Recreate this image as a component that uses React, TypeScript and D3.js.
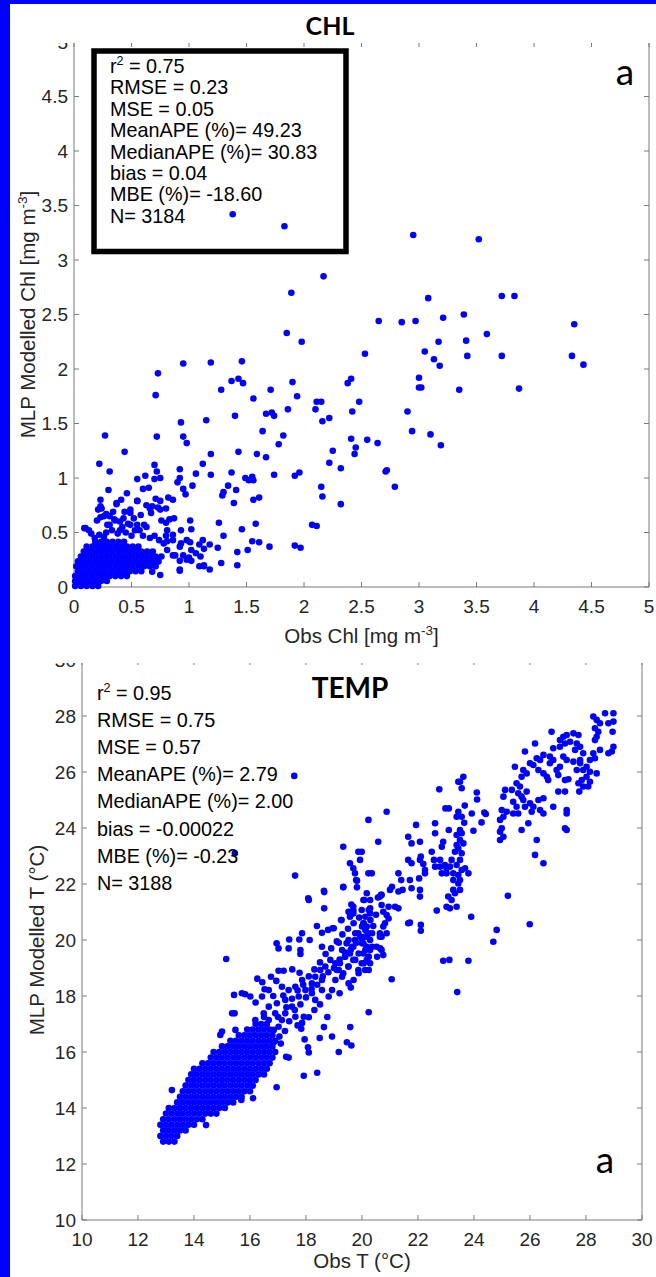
import React from "react";
import * as d3 from "d3";

const W = 656;
const H = 1277;
const BLUE = "#0000ff";
const FONT = "'Liberation Sans', Arial, Helvetica, sans-serif";
const TITLE_FONT = "Lato, 'Open Sans', sans-serif";
const AXIS = "#7a7a7a";
const TXT = "#262626";

// ---------- CHL panel data ----------
const chlTicks = [0, 0.5, 1, 1.5, 2, 2.5, 3, 3.5, 4, 4.5, 5];
const chlR2 = "0.75";
const chlStats = ["RMSE = 0.23", "MSE = 0.05", "MeanAPE (%)= 49.23", "MedianAPE (%)= 30.83", "bias = 0.04", "MBE (%)= -18.60", "N= 3184"];

// dense core of CHL cloud: [y, xs]
const chlCoreRows: [number, number[]][] = [
  [0.01, [0.01, 0.06, 0.11, 0.16, 0.21]],
  [0.055, [0.01, 0.035, 0.085, 0.135, 0.185, 0.235, 0.285]],
  [0.1, [0.01, 0.06, 0.11, 0.16, 0.21, 0.26, 0.31, 0.36, 0.41, 0.46]],
  [0.145, [0.035, 0.085, 0.135, 0.185, 0.235, 0.285, 0.335, 0.385, 0.435, 0.485, 0.535, 0.585]],
  [0.19, [0.02, 0.06, 0.11, 0.16, 0.21, 0.26, 0.31, 0.36, 0.41, 0.46, 0.51, 0.56, 0.61, 0.66, 0.71]],
  [0.235, [0.035, 0.085, 0.135, 0.185, 0.235, 0.285, 0.335, 0.385, 0.435, 0.485, 0.535, 0.585, 0.635, 0.685, 0.735]],
  [0.28, [0.06, 0.11, 0.16, 0.21, 0.26, 0.31, 0.36, 0.41, 0.46, 0.51, 0.56, 0.61, 0.66, 0.71, 0.76]],
  [0.325, [0.085, 0.135, 0.185, 0.235, 0.285, 0.335, 0.385, 0.435, 0.485, 0.535, 0.585, 0.635, 0.685]],
  [0.37, [0.11, 0.16, 0.21, 0.26, 0.31, 0.36, 0.41, 0.46, 0.51, 0.56]],
  [0.415, [0.185, 0.235, 0.285, 0.335, 0.385, 0.435]],
];

const chlScatter: [number, number][] = [
  [2.17, 2.85], [1.89, 2.7], [1.85, 2.33], [1.98, 2.25], [2.53, 2.14], [0.95, 2.05], [1.19, 2.06], [1.46, 2.07], [0.73, 1.96], [0.71, 1.76],
  [1.28, 1.81], [1.37, 1.89], [1.43, 1.91], [1.47, 1.87], [1.9, 1.88], [1.94, 1.75], [1.71, 1.81], [1.56, 1.73], [2.41, 1.91], [2.38, 1.87],
  [2.48, 1.7], [2.42, 1.61], [2.11, 1.7], [2.15, 1.7], [2.1, 1.63], [2.16, 1.52], [2.22, 1.55], [1.86, 1.63], [1.67, 1.59], [1.72, 1.6],
  [1.74, 1.57], [1.4, 1.57], [1.15, 1.53], [0.93, 1.51], [0.27, 1.39], [0.72, 1.38], [0.95, 1.38], [0.98, 1.32], [1.64, 1.43], [1.82, 1.39],
  [1.78, 1.31], [2.41, 1.36], [2.55, 1.35], [2.45, 1.28], [2.44, 1.22], [2.25, 1.25], [2.22, 1.14], [2.32, 1.09], [0.44, 1.24], [0.22, 1.13],
  [0.31, 1.06], [0.7, 1.12], [0.72, 1.06], [0.7, 0.99], [0.75, 1.0], [0.92, 1.08], [0.92, 1.0], [0.9, 0.96], [1.06, 1.04], [1.12, 1.13],
  [1.19, 1.22], [1.19, 1.03], [1.43, 1.24], [1.59, 1.22], [1.67, 1.19], [1.37, 1.05], [1.49, 1.0], [1.52, 0.98], [1.55, 1.01], [1.56, 0.98],
  [1.74, 1.03], [1.92, 1.02], [1.96, 1.05], [1.34, 0.93], [1.41, 0.89], [1.3, 0.87], [1.29, 0.84], [1.39, 0.77], [1.56, 0.8], [1.61, 0.82],
  [1.03, 0.93], [0.95, 0.9], [0.97, 0.85], [2.15, 0.92], [2.16, 0.83], [2.32, 0.76], [0.55, 0.99], [0.62, 1.02], [0.46, 0.86], [0.3, 0.89],
  [0.23, 0.8], [0.24, 0.72], [0.37, 0.76], [0.41, 0.8], [0.55, 0.79], [0.6, 0.9], [0.65, 0.91], [0.63, 0.75], [0.66, 0.72], [0.67, 0.68],
  [0.73, 0.73], [0.75, 0.79], [0.8, 0.72], [0.82, 0.82], [0.86, 0.8], [0.49, 0.71], [0.43, 0.63], [0.31, 0.65], [0.23, 0.64], [0.29, 0.57],
  [0.35, 0.62], [0.49, 0.57], [0.55, 0.57], [0.61, 0.57], [0.76, 0.61], [0.83, 0.62], [0.87, 0.63], [0.8, 0.59], [1.01, 0.61], [1.26, 0.59],
  [1.58, 0.58], [2.07, 0.57], [2.11, 0.56], [1.46, 0.53], [1.3, 0.47], [1.55, 0.42], [1.61, 0.41], [1.7, 0.37], [1.92, 0.38], [1.97, 0.36],
  [0.09, 0.54], [0.15, 0.49], [0.93, 0.52], [1.02, 0.53], [1.12, 0.43], [1.18, 0.39], [1.09, 0.39], [1.25, 0.36], [1.42, 0.32], [1.51, 0.34],
  [1.01, 0.41], [0.93, 0.4], [1.06, 0.31], [1.13, 0.35], [1.28, 0.22], [1.42, 0.2], [1.09, 0.19], [1.13, 0.2], [1.18, 0.16], [0.92, 0.15],
  [0.75, 0.11], [0.68, 0.14], [0.88, 0.29], [0.95, 0.29], [0.92, 0.24], [1.0, 0.27], [1.02, 0.24], [0.86, 0.48], [0.8, 0.47], [0.81, 0.42],
  [2.95, 3.23], [3.52, 3.19], [3.08, 2.65], [3.72, 2.67], [3.83, 2.67], [2.65, 2.44], [2.85, 2.43], [2.97, 2.44], [3.21, 2.47], [3.39, 2.5],
  [4.35, 2.41], [3.59, 2.32], [3.17, 2.25], [3.41, 2.26], [3.05, 2.16], [3.13, 2.09], [3.18, 2.03], [3.42, 2.12], [3.72, 2.12], [4.33, 2.12],
  [4.43, 2.04], [3.0, 1.92], [3.0, 1.83], [3.02, 1.83], [3.35, 1.81], [3.87, 1.82], [2.9, 1.61], [2.94, 1.43], [3.1, 1.4], [3.19, 1.3],
  [2.64, 1.32], [2.71, 1.06], [2.72, 1.07], [2.79, 0.92], [1.38, 3.42], [1.83, 3.31],
  [0.1, 0.54], [0.13, 0.52], [0.21, 0.71], [0.23, 0.74], [0.26, 0.65], [0.2, 0.61], [0.31, 0.57], [0.36, 0.61], [0.37, 0.77], [0.4, 0.52],
  [0.49, 0.68], [0.55, 0.79], [0.57, 0.52], [0.63, 0.55], [0.68, 0.74], [0.71, 0.81], [0.75, 0.71], [0.81, 0.52], [0.86, 0.43], [0.92, 0.37],
  [0.98, 0.43], [1.02, 0.34], [1.1, 0.28], [1.13, 0.19], [0.92, 0.16], [0.98, 0.25], [0.86, 0.29], [0.81, 0.34], [0.65, 0.22],
  [0.28, 0.5], [0.33, 0.52], [0.38, 0.49], [0.42, 0.55], [0.45, 0.5], [0.5, 0.47], [0.53, 0.52], [0.47, 0.58], [0.26, 0.46], [0.22, 0.48],
  [0.18, 0.45], [0.6, 0.47], [0.66, 0.45], [0.7, 0.47], [0.74, 0.43], [0.78, 0.4], [0.4, 0.6], [0.52, 0.63], [0.58, 0.66], [0.44, 0.69],
  [0.34, 0.69], [0.28, 0.67],
];

// ---------- TEMP panel data ----------
const tempTicks = [10, 12, 14, 16, 18, 20, 22, 24, 26, 28, 30];
const tempR2 = "0.95";
const tempStats = ["RMSE = 0.75", "MSE = 0.57", "MeanAPE (%)= 2.79", "MedianAPE (%)= 2.00", "bias = -0.00022", "MBE (%)= -0.23", "N= 3188"];

const tempCoreRows: [number, number[]][] = [
  [12.8, [12.9, 13.1, 13.3]],
  [13.0, [12.8, 13.0, 13.2, 13.4]],
  [13.2, [12.9, 13.1, 13.3, 13.5, 13.7]],
  [13.4, [12.8, 13.0, 13.2, 13.4, 13.6, 13.8, 14.0]],
  [13.6, [12.9, 13.1, 13.3, 13.5, 13.7, 13.9, 14.1, 14.3]],
  [13.8, [13.0, 13.2, 13.4, 13.6, 13.8, 14.0, 14.2, 14.4, 14.6, 14.8]],
  [14.0, [13.1, 13.3, 13.5, 13.7, 13.9, 14.1, 14.3, 14.5, 14.7, 14.9, 15.1]],
  [14.2, [13.4, 13.6, 13.8, 14.0, 14.2, 14.4, 14.6, 14.8, 15.0, 15.2, 15.4]],
  [14.4, [13.5, 13.7, 13.9, 14.1, 14.3, 14.5, 14.7, 14.9, 15.1, 15.3, 15.5, 15.7]],
  [14.6, [13.6, 13.8, 14.0, 14.2, 14.4, 14.6, 14.8, 15.0, 15.2, 15.4, 15.6, 15.8, 16.0]],
  [14.8, [13.7, 13.9, 14.1, 14.3, 14.5, 14.7, 14.9, 15.1, 15.3, 15.5, 15.7, 15.9, 16.1]],
  [15.0, [13.8, 14.0, 14.2, 14.4, 14.6, 14.8, 15.0, 15.2, 15.4, 15.6, 15.8, 16.0, 16.2]],
  [15.2, [13.9, 14.1, 14.3, 14.5, 14.7, 14.9, 15.1, 15.3, 15.5, 15.7, 15.9, 16.1, 16.3, 16.5]],
  [15.4, [14.0, 14.2, 14.4, 14.6, 14.8, 15.0, 15.2, 15.4, 15.6, 15.8, 16.0, 16.2, 16.4, 16.6]],
  [15.6, [14.3, 14.5, 14.7, 14.9, 15.1, 15.3, 15.5, 15.7, 15.9, 16.1, 16.3, 16.5, 16.7]],
  [15.8, [14.6, 14.8, 15.0, 15.2, 15.4, 15.6, 15.8, 16.0, 16.2, 16.4, 16.6, 16.8]],
  [16.0, [14.7, 14.9, 15.1, 15.3, 15.5, 15.7, 15.9, 16.1, 16.3, 16.5, 16.7, 16.9]],
  [16.2, [15.0, 15.2, 15.4, 15.6, 15.8, 16.0, 16.2, 16.4, 16.6, 16.8]],
  [16.4, [15.3, 15.5, 15.7, 15.9, 16.1, 16.3, 16.5, 16.7, 16.9]],
  [16.6, [15.6, 15.8, 16.0, 16.2, 16.4, 16.6, 16.8]],
  [16.8, [15.9, 16.1, 16.3, 16.5, 16.7]],
  [17.0, [16.2, 16.4, 16.6]],
];

const tempScatter: [number, number][] = [
  [15.15, 19.32], [13.21, 14.64], [14.43, 13.39], [16.95, 14.74], [16.11, 14.35], [15.69, 14.29], [17.92, 15.15], [18.4, 15.26], [17.29, 15.83], [17.38, 15.8],
  [18.1, 15.98], [18.07, 16.17], [19.17, 16.0], [19.62, 16.23], [19.46, 16.35], [18.93, 16.55], [18.49, 16.5], [17.95, 16.45], [18.64, 16.89], [19.58, 16.89],
  [18.76, 17.25], [20.24, 17.42], [17.83, 16.83], [17.86, 17.04], [17.92, 17.26], [18.1, 17.24], [15.43, 18.04], [15.45, 17.38], [15.71, 18.1], [15.83, 18.06],
  [16.01, 17.98], [16.2, 17.77], [16.26, 18.62], [16.44, 18.49], [16.52, 18.24], [16.75, 18.69], [16.94, 18.54], [17.02, 18.9], [17.2, 18.9], [16.83, 18.0],
  [17.19, 18.02], [17.51, 18.95], [17.77, 18.83], [17.86, 18.57], [16.95, 19.88], [17.02, 19.7], [17.38, 19.7], [17.4, 20.02], [17.76, 20.02], [17.8, 19.64],
  [17.8, 19.5], [17.86, 20.24], [18.13, 20.0], [18.1, 21.43], [18.65, 21.71], [18.65, 21.13], [18.39, 20.5], [18.57, 20.26], [18.79, 20.36], [18.99, 20.42],
  [18.57, 19.76], [19.17, 19.9], [19.25, 20.71], [19.33, 21.88], [19.62, 21.27], [19.69, 21.05], [19.52, 21.01], [19.82, 22.12], [19.82, 21.88], [20.08, 21.43],
  [20.24, 21.07], [20.29, 20.95], [20.57, 21.52], [20.68, 21.61], [20.65, 19.7], [20.54, 19.4],
  [20.06, 20.6], [20.12, 20.36], [20.18, 20.12], [20.0, 19.88], [20.12, 19.64], [20.24, 19.4], [20.06, 19.17], [20.24, 18.93], [19.88, 18.81], [19.7, 18.57],
  [19.52, 18.45], [19.29, 18.69], [19.17, 18.93], [19.05, 19.17], [18.87, 19.29], [18.69, 19.05], [18.51, 18.93], [18.33, 18.69], [18.21, 18.45], [18.93, 18.21],
  [18.81, 17.98], [18.57, 18.21], [18.21, 18.1], [17.98, 18.21], [17.74, 17.98], [17.5, 17.62], [17.26, 17.38], [17.14, 17.14], [17.62, 17.26], [18.33, 17.86],
  [18.57, 18.57], [19.05, 18.57], [19.52, 19.05], [19.76, 19.29], [19.88, 19.52], [20.36, 19.76], [20.36, 20.24], [20.3, 20.71], [20.12, 20.83], [19.94, 20.12],
  [19.64, 19.76], [19.4, 19.4], [19.29, 19.64], [19.52, 20.0], [19.76, 20.24], [20.0, 20.48],
  [16.67, 17.14], [16.9, 17.38], [16.67, 17.62], [16.49, 17.38], [16.19, 17.14], [16.85, 16.79], [17.02, 16.9], [17.26, 17.86], [17.38, 18.21], [17.62, 18.33],
  [17.14, 18.33], [16.67, 18.21], [16.43, 17.98], [16.96, 17.74], [14.94, 16.61], [15.0, 16.73], [15.48, 16.79], [15.36, 17.38],
  [17.1, 16.3], [17.25, 16.75], [17.0, 17.25], [16.5, 17.25], [17.05, 16.55], [16.85, 16.35],
  [17.3, 17.6], [17.5, 17.9], [17.7, 18.2], [17.9, 18.4], [18.1, 18.7], [18.3, 18.95], [18.5, 19.2], [18.7, 19.5], [18.9, 19.7], [19.1, 19.95],
  [19.3, 20.2], [19.5, 20.4], [19.7, 20.6], [19.9, 20.8], [17.6, 17.5], [17.8, 17.7], [18.0, 17.95], [18.2, 18.25], [18.4, 18.4], [18.6, 18.7],
  [18.8, 18.85], [19.0, 19.0], [19.2, 19.3], [19.4, 19.55], [19.6, 19.65], [19.8, 19.9], [20.0, 20.05], [17.4, 17.1], [17.7, 16.95], [18.3, 17.5],
  [18.5, 17.7], [19.2, 18.1], [19.6, 18.3], [20.4, 20.5], [20.5, 20.9],
  [28.68, 28.1], [28.98, 28.1], [28.26, 27.98], [28.38, 27.86], [28.5, 27.74], [28.98, 27.8], [28.8, 27.74], [28.32, 27.56], [28.44, 27.44], [28.38, 27.26],
  [28.32, 27.14], [28.92, 26.73], [28.8, 26.67], [28.98, 26.9], [28.5, 26.79], [28.26, 26.67], [28.14, 26.43], [28.32, 26.49], [27.9, 26.67], [27.79, 26.9],
  [27.61, 26.79], [27.67, 27.02], [27.73, 27.32], [27.55, 27.38], [27.31, 27.32], [27.19, 27.26], [27.07, 27.14], [27.25, 27.02], [27.43, 27.08], [27.07, 26.9],
  [27.19, 26.55], [26.77, 27.44], [26.83, 26.85], [26.71, 26.55], [26.71, 26.31], [27.31, 26.43], [27.55, 26.37], [27.79, 26.31], [28.02, 26.19], [27.9, 26.07],
  [28.14, 26.01], [28.38, 25.95], [28.02, 25.83], [27.85, 25.71], [27.67, 26.07], [27.79, 26.43], [27.07, 26.19], [27.37, 25.74], [26.6, 25.83], [26.65, 25.71],
  [26.95, 26.07], [26.48, 25.95], [26.83, 26.43], [26.36, 26.43], [26.12, 26.25], [26.24, 26.49], [26.0, 26.31], [25.82, 26.73], [26.18, 27.02], [26.48, 26.61],
  [26.3, 26.07], [25.46, 26.19], [25.76, 26.07], [25.7, 25.83], [25.88, 25.95], [25.52, 25.6], [25.64, 25.48], [25.58, 25.24], [25.7, 25.12], [25.76, 25.0],
  [25.88, 25.3], [25.35, 25.36], [25.11, 25.36], [25.05, 25.12], [25.4, 24.94], [25.52, 24.76], [25.82, 24.76], [26.0, 24.88], [26.12, 24.76], [26.3, 25.0],
  [26.48, 25.06], [26.06, 24.58], [26.36, 24.64], [26.48, 24.52], [26.83, 24.76], [27.01, 25.3], [27.25, 25.3], [27.31, 24.64], [27.31, 24.52], [27.25, 23.99],
  [27.31, 23.93], [27.73, 25.6], [27.9, 25.48], [28.14, 25.65], [27.76, 25.3], [28.08, 25.48], [27.01, 25.89], [27.25, 25.71], [25.94, 24.17], [25.7, 23.93],
  [26.24, 23.57], [26.18, 23.04], [26.48, 22.74], [25.4, 24.52], [25.58, 24.52], [25.05, 24.4], [24.99, 24.64], [25.17, 24.58], [24.93, 24.29], [24.99, 23.99],
  [24.93, 23.87], [24.93, 23.57], [25.05, 23.69], [28.95, 27.44],
  [23.62, 25.83], [23.44, 25.65], [23.56, 25.42], [23.5, 25.65], [22.76, 25.38], [24.1, 25.27], [24.11, 25.02], [22.98, 24.7], [23.1, 24.7], [23.67, 24.8],
  [23.44, 24.58], [23.38, 24.4], [23.56, 24.4], [23.92, 24.52], [24.37, 24.55], [24.42, 24.5], [24.27, 24.2], [23.65, 24.19], [23.98, 23.9], [23.1, 23.93],
  [23.5, 23.93], [23.56, 23.81], [23.38, 23.75], [23.5, 23.57], [23.38, 23.39], [23.62, 23.45], [23.44, 23.27], [23.32, 23.15], [23.56, 23.1], [23.5, 22.86],
  [23.2, 22.86], [23.38, 22.68], [23.14, 22.62], [23.02, 22.56], [22.96, 22.68], [22.79, 22.62], [22.85, 22.38], [23.02, 22.38], [23.26, 22.38], [23.44, 22.32],
  [23.56, 22.5], [23.68, 22.56], [23.26, 22.14], [23.44, 22.02], [23.5, 21.79], [23.32, 21.67], [23.2, 21.43], [23.38, 21.19], [23.14, 21.13], [23.02, 21.19],
  [23.08, 21.55], [23.26, 21.79], [23.5, 22.14], [23.8, 22.38], [22.79, 22.86], [22.61, 22.62], [22.57, 22.86], [22.49, 23.15], [22.9, 23.51], [22.85, 23.33],
  [22.1, 22.98], [22.19, 22.71], [22.07, 22.86], [22.25, 22.5], [22.25, 22.38], [22.04, 22.2], [21.77, 22.74], [21.65, 22.86], [22.61, 24.17], [22.61, 23.81],
  [21.93, 24.11], [21.65, 23.69], [21.77, 23.45], [22.07, 23.51], [21.71, 22.14], [21.77, 21.85], [22.07, 21.79], [22.07, 21.55], [21.4, 22.14], [21.3, 22.38],
  [21.45, 21.79], [21.07, 21.9], [21.0, 21.79], [20.64, 21.55], [20.7, 21.61], [21.18, 21.19], [21.3, 21.13], [20.95, 21.19], [20.88, 20.89], [20.95, 20.77],
  [20.7, 21.25], [20.76, 21.01], [20.82, 20.6], [20.76, 20.48], [20.64, 20.24], [20.7, 20.12],
  [20.58, 23.51], [20.88, 24.58], [20.23, 24.29], [19.33, 23.33], [19.93, 22.86], [19.87, 23.15], [19.99, 23.15], [19.57, 22.74], [19.69, 22.56], [19.75, 22.38],
  [19.79, 22.14], [19.33, 21.9], [20.23, 22.38], [20.35, 22.38], [20.17, 21.67], [20.05, 21.43], [20.29, 21.43], [20.29, 21.13], [19.99, 21.07], [19.69, 21.19],
  [19.69, 20.95], [19.57, 20.83], [19.27, 20.71], [18.95, 20.42], [21.3, 21.73], [21.71, 20.62], [22.1, 20.54], [22.1, 20.33], [21.65, 20.6], [21.06, 18.6],
  [20.88, 20.24], [22.67, 21.05], [23.9, 20.83], [25.21, 21.58], [25.99, 20.56], [24.81, 20.36], [24.69, 19.94], [22.9, 19.26], [23.12, 19.29], [23.8, 19.26],
  [23.4, 18.14],
  [20.05, 20.6], [20.17, 20.48], [20.23, 20.24], [20.11, 20.12], [20.29, 20.0], [20.05, 19.88], [20.17, 19.76], [20.29, 19.64], [20.05, 19.52], [20.23, 19.4],
  [20.17, 19.29], [19.99, 19.17], [20.29, 19.17], [20.11, 18.93], [19.87, 18.93], [19.69, 19.29], [19.57, 19.52], [19.39, 19.4], [19.21, 19.17], [19.1, 18.93],
  [19.33, 18.81], [19.51, 19.05], [19.69, 19.76], [19.45, 19.88], [19.75, 20.0], [19.87, 20.24], [20.52, 19.76], [20.7, 19.64], [20.76, 19.46], [20.64, 20.12],
  [17.58, 25.86], [15.46, 23.1], [17.61, 22.3], [18.64, 21.76], [18.08, 21.49],
];

const rowsToPoints = (rows: [number, number[]][]): [number, number][] =>
  rows.flatMap(([y, xs]) => xs.map((x) => [x, y] as [number, number]));

type PanelProps = {
  id: string;
  domain: [number, number];
  ticks: number[];
  left: number; right: number; top: number; bottom: number;
  clipY0: number; clipY1: number;
  points: [number, number][];
  xLabel: React.ReactNode; yLabel: React.ReactNode;
  xLabelY: number; yLabelX: number;
  title: string; titleX: number; titleY: number; titleSize: number;
  letterX: number; letterY: number;
  r2: string; stats: string[]; statsX: number; statsY0: number; statsDy: number;
  box?: { x: number; y: number; w: number; h: number };
};

function Panel(p: PanelProps) {
  const x = d3.scaleLinear().domain(p.domain).range([p.left, p.right]);
  const y = d3.scaleLinear().domain(p.domain).range([p.bottom, p.top]);
  const tl = 5;
  return (
    <g>
      <defs>
        <clipPath id={p.id}>
          <rect x={0} y={p.clipY0} width={W} height={p.clipY1 - p.clipY0} />
        </clipPath>
      </defs>
      <g clipPath={`url(#${p.id})`}>
        <g stroke={AXIS} strokeWidth={1} fill="none">
          <line x1={p.left} x2={p.right} y1={p.bottom} y2={p.bottom} />
          <line x1={p.left} x2={p.right} y1={p.top} y2={p.top} />
          <line x1={p.left} x2={p.left} y1={p.top} y2={p.bottom} />
          <line x1={p.right} x2={p.right} y1={p.top} y2={p.bottom} />
          {p.ticks.map((t) => (
            <g key={"t" + t}>
              <line x1={x(t)} x2={x(t)} y1={p.bottom} y2={p.bottom - tl} />
              <line x1={x(t)} x2={x(t)} y1={p.top} y2={p.top + tl} />
              <line x1={p.left} x2={p.left + tl} y1={y(t)} y2={y(t)} />
              <line x1={p.right} x2={p.right - tl} y1={y(t)} y2={y(t)} />
            </g>
          ))}
        </g>
        <g fontFamily={FONT} fontSize={19} fill={TXT}>
          {p.ticks.map((t) => (
            <text key={"xl" + t} x={x(t)} y={p.bottom + 26} textAnchor="middle">{String(t)}</text>
          ))}
          {p.ticks.map((t) => (
            <text key={"yl" + t} x={p.left - 6} y={y(t) + 6.6} textAnchor="end">{String(t)}</text>
          ))}
        </g>
        <g fill={BLUE}>
          {p.points.map((d, i) => (
            <circle key={i} cx={x(d[0])} cy={y(d[1])} r={3.3} />
          ))}
        </g>
        <g fontFamily={FONT} fontSize={19.8} fill="#000">
          <text x={p.statsX} y={p.statsY0}>
            r<tspan dy={-8} fontSize={12.5}>2</tspan>
            <tspan dy={8}>{" = " + p.r2}</tspan>
          </text>
          {p.stats.map((s, i) => (
            <text key={s} x={p.statsX} y={p.statsY0 + (i + 1) * p.statsDy}>{s}</text>
          ))}
        </g>
        {p.box && (
          <rect x={p.box.x} y={p.box.y} width={p.box.w} height={p.box.h} fill="none" stroke="#000" strokeWidth={5.5} />
        )}
        <text x={p.letterX} y={p.letterY} textAnchor="middle" fontFamily={TITLE_FONT} fontSize={37} fill="#000">a</text>
        <text x={(p.left + p.right) / 2} y={p.xLabelY} textAnchor="middle" fontFamily={FONT} fontSize={20.5} fill={TXT}>{p.xLabel}</text>
        <text transform={`translate(${p.yLabelX},${(p.top + p.bottom) / 2}) rotate(-90)`} textAnchor="middle" fontFamily={FONT} fontSize={20.5} fill={TXT}>{p.yLabel}</text>
      </g>
      <text x={p.titleX} y={p.titleY} textAnchor="middle" fontFamily={TITLE_FONT} fontWeight={700} fontSize={p.titleSize} fill="#000">{p.title}</text>
    </g>
  );
}

export default function App() {
  const chlPoints = [...rowsToPoints(chlCoreRows), ...chlScatter];
  const tempPoints = [...rowsToPoints(tempCoreRows), ...tempScatter];
  return (
    <svg width={W} height={H} style={{ position: "absolute", left: 0, top: 0, display: "block" }}>
      <rect x={0} y={0} width={W} height={H} fill="#fff" />
      <Panel
        id="clipChl" domain={[0, 5]} ticks={chlTicks}
        left={74} right={649} top={42} bottom={587}
        clipY0={43} clipY1={655}
        points={chlPoints}
        xLabel={<>Obs Chl [mg m<tspan dy={-8} fontSize={13.5}>-3</tspan><tspan dy={8}>]</tspan></>}
        yLabel={<>MLP Modelled Chl [mg m<tspan dy={-8} fontSize={13.5}>-3</tspan><tspan dy={8}>]</tspan></>}
        xLabelY={643} yLabelX={35}
        title="CHL" titleX={330} titleY={35} titleSize={25}
        letterX={625} letterY={85}
        r2={chlR2} stats={chlStats} statsX={110} statsY0={73} statsDy={21.4}
        box={{ x: 94, y: 51, w: 252, h: 200.5 }}
      />
      <Panel
        id="clipTemp" domain={[10, 30]} ticks={tempTicks}
        left={82} right={642} top={660} bottom={1220}
        clipY0={663} clipY1={H}
        points={tempPoints}
        xLabel={"Obs T (°C)"}
        yLabel={"MLP Modelled T (°C)"}
        xLabelY={1268} yLabelX={44}
        title="TEMP" titleX={350} titleY={698} titleSize={28}
        letterX={605} letterY={1173}
        r2={tempR2} stats={tempStats} statsX={97} statsY0={700} statsDy={27.1}
      />
      <rect x={0} y={0} width={10} height={H} fill={BLUE} />
      <rect x={0} y={0} width={W} height={4} fill={BLUE} />
    </svg>
  );
}
